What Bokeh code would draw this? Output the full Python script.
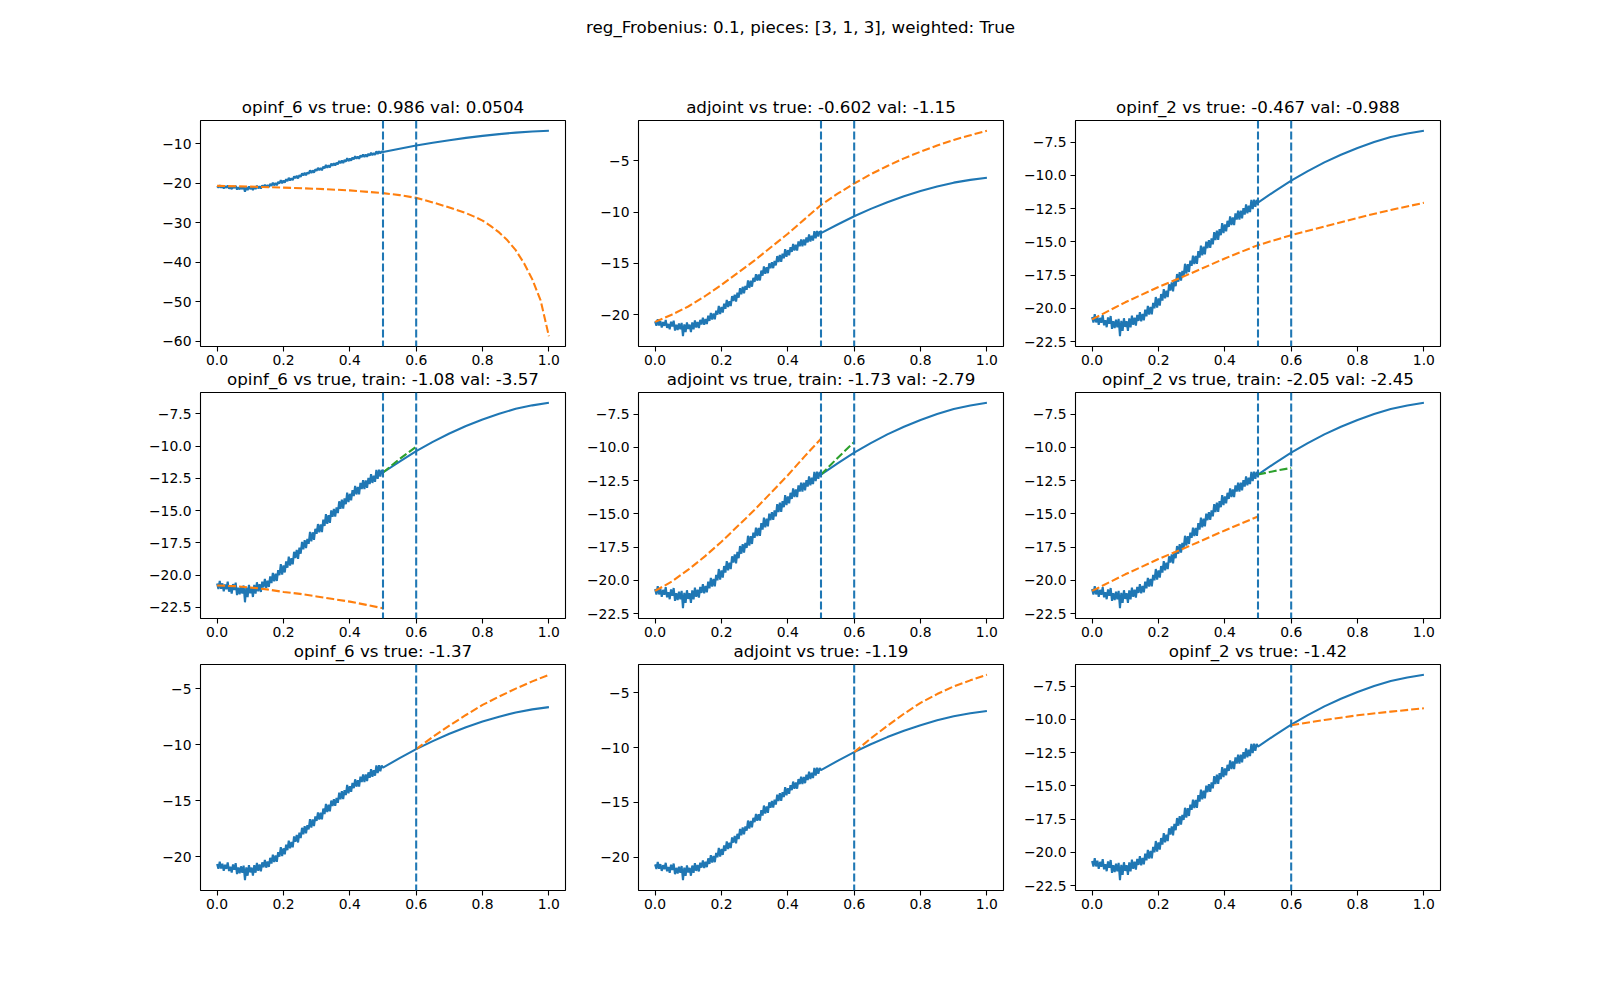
import numpy as np
from bokeh.plotting import figure
from bokeh.layouts import column, row
from bokeh.models import Span, FixedTicker, CustomJSTickFormatter, Range1d, Label
from bokeh.embed import file_html
from bokeh.resources import INLINE

# ---------------- data ----------------
SUPTITLE = "reg_Frobenius: 0.1, pieces: [3, 1, 3], weighted: True"
TITLES = [
    ["opinf_6 vs true: 0.986 val: 0.0504", "adjoint vs true: -0.602 val: -1.15", "opinf_2 vs true: -0.467 val: -0.988"],
    ["opinf_6 vs true, train: -1.08 val: -3.57", "adjoint vs true, train: -1.73 val: -2.79", "opinf_2 vs true, train: -2.05 val: -2.45"],
    ["opinf_6 vs true: -1.37", "adjoint vs true: -1.19", "opinf_2 vs true: -1.42"],
]

# noisy training part of the true signal, x from 0.0 to 0.5 (step 0.004)
noisy_y = [
    -20.65, -21.07, -20.44, -21.06, -20.63, -21.25, -20.72, -21.09, -20.51, -21.28,
    -20.90, -21.42, -20.69, -21.16, -20.58, -21.55, -20.97, -21.49, -20.86, -21.43,
    -20.80, -22.10, -20.95, -21.70, -20.75, -21.40, -20.97, -21.69, -20.76, -21.43,
    -20.55, -21.25, -20.70, -21.30, -20.50, -20.95, -20.29, -20.98, -20.42, -20.91,
    -20.10, -20.61, -19.82, -20.48, -19.89, -20.45, -19.60, -20.00, -19.15, -19.95,
    -19.25, -19.79, -18.93, -19.42, -18.56, -19.25, -18.68, -19.16, -18.19, -18.67,
    -18.05, -18.73, -17.86, -18.34, -17.42, -18.00, -17.28, -17.91, -17.19, -17.57,
    -16.65, -17.39, -16.68, -17.27, -16.41, -16.80, -16.04, -16.68, -16.07, -16.66,
    -15.70, -16.19, -15.28, -16.02, -15.36, -15.95, -14.99, -15.48, -14.87, -15.46,
    -14.75, -15.19, -14.28, -14.87, -14.16, -14.85, -14.05, -14.50, -13.60, -14.35,
    -13.70, -14.21, -13.42, -13.88, -13.09, -13.75, -13.17, -13.74, -12.86, -13.33,
    -12.65, -13.33, -12.66, -13.24, -12.47, -12.95, -12.18, -12.86, -12.29, -12.77,
    -11.85, -12.54, -11.83, -12.37, -11.86, -12.05,
]
noisy_x = list(np.linspace(0.0, 0.5, len(noisy_y)))

# smooth part of the true signal
smooth_x = [0.55, 0.6, 0.65, 0.7, 0.75, 0.8, 0.85, 0.9, 0.95, 1.0]
smooth_y = [-11.2, -10.4, -9.68, -9.03, -8.45, -7.94, -7.5, -7.12, -6.85, -6.65]

true_x = noisy_x + smooth_x
true_y = noisy_y + smooth_y

# row 1 predictions (orange)
o00_x = [0.0, 0.1, 0.2, 0.3, 0.4, 0.5, 0.55, 0.6, 0.65, 0.7, 0.75, 0.775, 0.8, 0.825, 0.85, 0.875,
         0.9, 0.925, 0.95, 0.975, 1.0]
o00_y = [-20.6, -20.8, -21.05, -21.35, -21.75, -22.45, -22.95, -23.65, -24.8, -26.1, -27.5, -28.4,
         -29.4, -30.8, -32.4, -34.4, -36.9, -40.2, -44.3, -49.6, -58.7]

o01_x = [0.0, 0.05, 0.1, 0.15, 0.2, 0.25, 0.3, 0.35, 0.4, 0.45, 0.5, 0.55, 0.6, 0.65, 0.7, 0.75, 0.8, 0.85, 0.9, 0.95, 1.0]
o01_y = [-20.7, -20.0, -19.2, -18.2, -17.1, -15.9, -14.7, -13.4, -12.1, -10.7, -9.3, -8.2, -7.2, -6.3, -5.5, -4.75, -4.1, -3.5, -2.95, -2.5, -2.06]

o02_x = [0.0, 0.1, 0.2, 0.3, 0.4, 0.5, 0.6, 0.7, 0.8, 0.9, 1.0]
o02_y = [-20.83, -19.55, -18.4, -17.35, -16.25, -15.25, -14.5, -13.85, -13.2, -12.6, -12.07]

# row 2 training fits (orange) and validation extrapolations (green)
o10_x = [0.0, 0.05, 0.1, 0.15, 0.2, 0.25, 0.3, 0.35, 0.4, 0.45, 0.5]
o10_y = [-20.8, -20.85, -20.95, -21.1, -21.3, -21.45, -21.65, -21.85, -22.05, -22.3, -22.56]
g10_x = [0.5, 0.55, 0.6]
g10_y = [-12.05, -11.0, -10.05]

o11_x = [0.0, 0.05, 0.1, 0.15, 0.2, 0.25, 0.3, 0.35, 0.4, 0.45, 0.5]
o11_y = [-20.8, -20.1, -19.2, -18.2, -17.1, -15.9, -14.7, -13.4, -12.1, -10.7, -9.35]
g11_x = [0.5, 0.55, 0.6]
g11_y = [-12.05, -10.8, -9.6]

o12_x = [0.0, 0.1, 0.2, 0.3, 0.4, 0.5]
o12_y = [-20.8, -19.55, -18.4, -17.35, -16.25, -15.2]
g12_x = [0.5, 0.55, 0.6]
g12_y = [-12.05, -11.78, -11.55]

# row 3 test extrapolations (orange)
o20_x = [0.6, 0.65, 0.7, 0.75, 0.8, 0.85, 0.9, 0.95, 1.0]
o20_y = [-10.4, -9.3, -8.3, -7.35, -6.45, -5.7, -5.0, -4.35, -3.76]
o21_x = [0.6, 0.65, 0.7, 0.75, 0.8, 0.85, 0.9, 0.95, 1.0]
o21_y = [-10.4, -9.15, -8.0, -6.9, -5.9, -5.1, -4.4, -3.85, -3.34]
o22_x = [0.6, 0.7, 0.8, 0.9, 1.0]
o22_y = [-10.45, -10.05, -9.7, -9.42, -9.17]

# split markers
splits_train = [0.5, 0.6]
splits_test = [0.6]

# ticks
x_ticks = [0.0, 0.2, 0.4, 0.6, 0.8, 1.0]
y_ticks_wide = [-60, -50, -40, -30, -20, -10]
y_ticks_5 = [-20, -15, -10, -5]
y_ticks_25 = [-22.5, -20.0, -17.5, -15.0, -12.5, -10.0, -7.5]

# ---------------- style ----------------
C0, C1, C2 = "#1f77b4", "#ff7f0e", "#2ca02c"
FONT = "DejaVu Sans"
LW = 2.08
DASH = "8 3"

panels = [
    [dict(ov=[(o00_x, o00_y, C1)], spans=splits_train, yt=y_ticks_wide, yd=0),
     dict(ov=[(o01_x, o01_y, C1)], spans=splits_train, yt=y_ticks_5, yd=0),
     dict(ov=[(o02_x, o02_y, C1)], spans=splits_train, yt=y_ticks_25, yd=1)],
    [dict(ov=[(o10_x, o10_y, C1), (g10_x, g10_y, C2)], spans=splits_train, yt=y_ticks_25, yd=1),
     dict(ov=[(o11_x, o11_y, C1), (g11_x, g11_y, C2)], spans=splits_train, yt=y_ticks_25, yd=1),
     dict(ov=[(o12_x, o12_y, C1), (g12_x, g12_y, C2)], spans=splits_train, yt=y_ticks_25, yd=1)],
    [dict(ov=[(o20_x, o20_y, C1)], spans=splits_test, yt=y_ticks_5, yd=0),
     dict(ov=[(o21_x, o21_y, C1)], spans=splits_test, yt=y_ticks_5, yd=0),
     dict(ov=[(o22_x, o22_y, C1)], spans=splits_test, yt=y_ticks_25, yd=1)],
]

FRAME_W, FRAME_H = 365, 226
TOP_H = 50
ROW_GAP = 46          # distance between one frame bottom and the next frame top
MB, MT = 26, 34       # reserved bottom / top borders of the panels
OVERLAP = MB + MT - ROW_GAP
col_borders = [(200, 10), (63, 9), (63, 10)]
row_borders = [(120 - TOP_H, MB), (MT, MB), (MT, 30)]

FMT = ("const s = tick.toFixed(d);"
       "return (tick < 0) ? '\u2212' + s.substring(1) : s;")


def make_panel(r, c):
    spec = panels[r][c]
    xs = [true_x] + [o[0] for o in spec["ov"]]
    ys = [true_y] + [o[1] for o in spec["ov"]]
    xmin = min(min(v) for v in xs); xmax = max(max(v) for v in xs)
    ymin = min(min(v) for v in ys); ymax = max(max(v) for v in ys)
    xp = 0.05 * (xmax - xmin); yp = 0.05 * (ymax - ymin)
    ml, mr = col_borders[c]
    mt, mb = row_borders[r]
    p = figure(frame_width=FRAME_W, frame_height=FRAME_H,
               x_range=Range1d(xmin - xp, xmax + xp), y_range=Range1d(ymin - yp, ymax + yp),
               min_border_left=ml, min_border_right=mr, min_border_top=mt, min_border_bottom=mb,
               toolbar_location=None, output_backend="svg", title=TITLES[r][c])
    p.title.align = "center"
    p.title.text_font = FONT
    p.title.text_font_size = "16.7px"
    p.title.text_font_style = "normal"
    p.title.text_color = "black"
    p.title.standoff = 8
    p.xgrid.visible = False
    p.ygrid.visible = False
    p.outline_line_color = "black"
    p.outline_line_width = 1.1
    p.outline_line_alpha = 1.0
    p.background_fill_color = "white"
    p.border_fill_color = None

    p.line(true_x, true_y, line_color=C0, line_width=LW)
    for ox, oy, col in spec["ov"]:
        p.line(ox, oy, line_color=col, line_width=LW, line_dash=DASH)
    for s in spec["spans"]:
        p.add_layout(Span(location=s, dimension="height", line_color=C0,
                          line_width=LW, line_dash=DASH))

    p.xaxis.ticker = FixedTicker(ticks=x_ticks)
    p.xaxis.formatter = CustomJSTickFormatter(args=dict(d=1), code=FMT)
    p.yaxis.ticker = FixedTicker(ticks=spec["yt"])
    p.yaxis.formatter = CustomJSTickFormatter(args=dict(d=spec["yd"]), code=FMT)
    for ax in (p.xaxis[0], p.yaxis[0]):
        ax.axis_line_color = None
        ax.major_tick_out = 5
        ax.major_tick_in = 0
        ax.minor_tick_out = 0
        ax.minor_tick_in = 0
        ax.major_tick_line_color = "black"
        ax.major_tick_line_width = 1.1
        ax.major_label_text_font = FONT
        ax.major_label_text_font_size = "13.9px"
        ax.major_label_text_color = "black"
    p.xaxis.major_label_standoff = 3
    p.yaxis.major_label_standoff = 4
    return p


# figure-level title
top = figure(width=1600, height=TOP_H, x_range=Range1d(0, 1), y_range=Range1d(0, TOP_H),
             toolbar_location=None, output_backend="svg",
             x_axis_location=None, y_axis_location=None,
             min_border_left=0, min_border_right=0, min_border_top=0, min_border_bottom=0,
             outline_line_color=None, border_fill_color=None, background_fill_color=None)
top.xgrid.visible = False
top.ygrid.visible = False
top.add_layout(Label(x=0.5, y=TOP_H - 26.5, text=SUPTITLE, text_align="center",
                     text_baseline="alphabetic", text_font=FONT, text_font_size="16.7px",
                     text_color="black"))

rows = []
for r in range(3):
    margin = (0, 0, 0, 0) if r == 0 else (-OVERLAP, 0, 0, 0)
    rows.append(row(*[make_panel(r, c) for c in range(3)], spacing=0, margin=margin))
layout = column(top, *rows, spacing=0)

open("out.html", "w").write(file_html(layout, INLINE))
